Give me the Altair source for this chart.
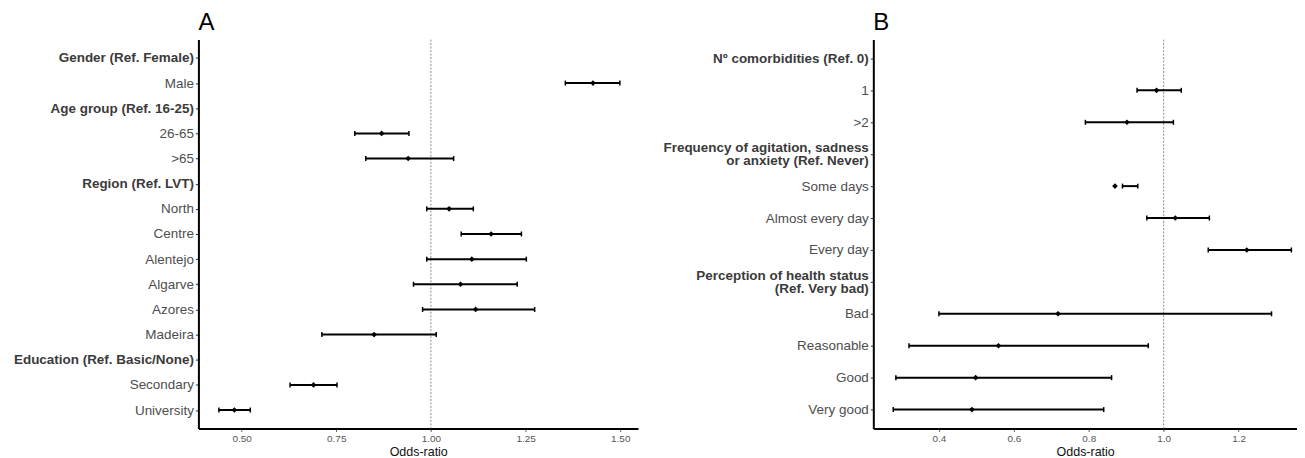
import json
import altair as alt
import pandas as pd

# ---------------- Panel A data ----------------
a_labels = ["Gender (Ref. Female)", "Male", "Age group (Ref. 16-25)", "26-65", ">65",
            "Region (Ref. LVT)", "North", "Centre", "Alentejo", "Algarve", "Azores",
            "Madeira", "Education (Ref. Basic/None)", "Secondary", "University"]
a_or = [None, 1.428, None, 0.870, 0.940, None, 1.048, 1.159, 1.108, 1.078, 1.118,
        0.850, None, 0.690, 0.481]
a_lo = [None, 1.355, None, 0.799, 0.828, None, 0.989, 1.080, 0.989, 0.954, 0.978,
        0.712, None, 0.628, 0.440]
a_hi = [None, 1.499, None, 0.942, 1.060, None, 1.112, 1.239, 1.252, 1.228, 1.274,
        1.014, None, 0.752, 0.523]
a_headers = ["Gender (Ref. Female)", "Age group (Ref. 16-25)", "Region (Ref. LVT)",
             "Education (Ref. Basic/None)"]
a_ticks = [0.50, 0.75, 1.00, 1.25, 1.50]

# ---------------- Panel B data ----------------
b_labels = ["Nº comorbidities (Ref. 0)", "1", ">2",
            "Frequency of agitation, sadness|or anxiety (Ref. Never)",
            "Some days", "Almost every day", "Every day",
            "Perception of health status|(Ref. Very bad)",
            "Bad", "Reasonable", "Good", "Very good"]
b_or = [None, 0.981, 0.902, None, 0.870, 1.031, 1.222, None, 0.718, 0.559, 0.498, 0.488]
b_lo = [None, 0.929, 0.791, None, 0.890, 0.955, 1.119, None, 0.400, 0.320, 0.285, 0.278]
b_hi = [None, 1.047, 1.026, None, 0.931, 1.122, 1.341, None, 1.288, 0.959, 0.861, 0.840]
b_headers = ["Nº comorbidities (Ref. 0)",
             "Frequency of agitation, sadness|or anxiety (Ref. Never)",
             "Perception of health status|(Ref. Very bad)"]
b_ticks = [0.4, 0.6, 0.8, 1.0, 1.2]

FONT = "Liberation Sans Narrow, Arial Narrow, Liberation Sans, Arial, sans-serif"
TFONT = "Liberation Sans, Arial, sans-serif"


def panel(title, labels, orv, lo, hi, headers, ticks, fmt, domain, width, pad, extent):
    df = pd.DataFrame({"label": labels, "or": orv, "lo": lo, "hi": hi}).dropna()
    test = "indexof(%s, datum.value) >= 0" % json.dumps(headers, ensure_ascii=False)
    multi = "indexof(datum.value, '|') >= 0"
    yscale = alt.Scale(type="point", domain=labels, padding=pad)
    yaxis = alt.Axis(
        title=None, labelFont=FONT, labelFontSize=13.5,
        labelColor={"condition": {"test": test, "value": "#3a3a3a"}, "value": "#4d4d4d"},
        labelFontWeight={"condition": {"test": test, "value": "bold"}, "value": "normal"},
        labelOffset={"condition": {"test": multi, "value": -6.5}, "value": 0},
        labelExpr="split(datum.label, '|')", labelLineHeight=13,
        labelLimit=400, labelPadding=2, tickSize=3, tickColor="#333333", tickWidth=1,
        domainColor="black", domainWidth=2, minExtent=extent, grid=False)
    xscale = alt.Scale(domain=domain, nice=False, zero=False)
    xaxis = alt.Axis(
        title="Odds-ratio", values=ticks, format=fmt, labelFont=FONT, labelFontSize=10,
        labelColor="#555555", labelPadding=2, tickSize=3, tickColor="#555555",
        tickWidth=1, domainColor="black", domainWidth=2, titleFont=FONT,
        titleFontSize=12.5, titleFontWeight="normal", titleColor="#111111",
        titlePadding=2, grid=False, labelFlush=False)

    ref = alt.Chart(pd.DataFrame({"x": [1.0]})).mark_rule(
        color="#8c8c8c", strokeDash=[2, 1.5], strokeWidth=1
    ).encode(x=alt.X("x:Q", scale=xscale, axis=xaxis))

    base = alt.Chart(df)
    y = alt.Y("label:N", scale=yscale, axis=yaxis)
    bars = base.mark_rule(color="black", strokeWidth=2).encode(
        x=alt.X("lo:Q", scale=xscale, axis=xaxis), x2="hi:Q", y=y)
    cap_lo = base.mark_tick(orient="vertical", color="black", size=5, thickness=1.5,
                            opacity=1).encode(x=alt.X("lo:Q", scale=xscale, axis=xaxis), y=y)
    cap_hi = base.mark_tick(orient="vertical", color="black", size=5, thickness=1.5,
                            opacity=1).encode(x=alt.X("hi:Q", scale=xscale, axis=xaxis), y=y)
    pts = base.mark_point(shape="diamond", filled=True, size=32, color="black",
                          opacity=1).encode(x=alt.X("or:Q", scale=xscale, axis=xaxis), y=y)

    return alt.layer(ref, bars, cap_lo, cap_hi, pts).properties(
        width=width, height=390,
        title=alt.TitleParams(title, anchor="start", frame="group", fontSize=24,
                              font=TFONT, fontWeight="normal", color="black", offset=4))


pa = panel("A", a_labels, a_or, a_lo, a_hi, a_headers, a_ticks, ".2f",
           [0.386, 1.547], 441, 0.73, 191)
pb = panel("B", b_labels, b_or, b_lo, b_hi, b_headers, b_ticks, ".1f",
           [0.2248, 1.356], 425, 0.59, 220)

chart = alt.hconcat(pa, pb, spacing=16).properties(
    padding={"left": 0, "top": 2, "right": 0, "bottom": 0}
).configure_view(stroke=None)

chart.save("out.html", embed_options={"renderer": "svg", "actions": False})
